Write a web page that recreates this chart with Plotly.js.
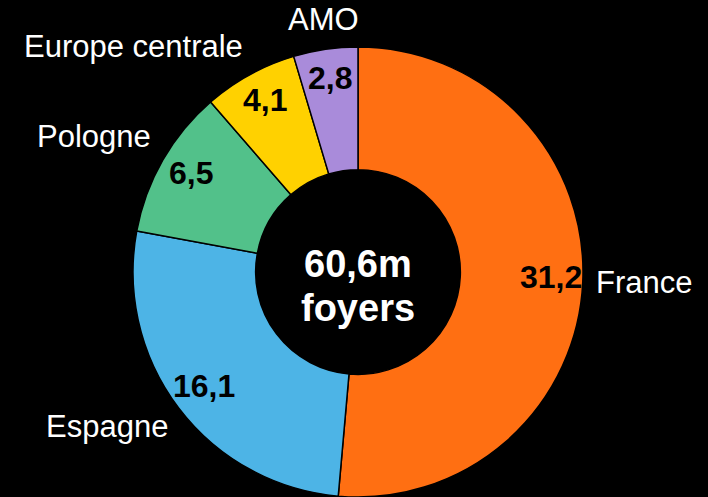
<!DOCTYPE html>
<html>
<head>
<meta charset="utf-8">
<script src="https://cdn.plot.ly/plotly-3.0.1.min.js"></script>
<style>
  html, body { margin: 0; padding: 0; background: #000; }
  #chart { width: 708px; height: 497px; }
</style>
</head>
<body>
<div id="chart"></div>
<script>
// Data
const regions = ["France", "Espagne", "Pologne", "Europe centrale", "AMO"];
const households = [31.2, 16.1, 6.5, 4.1, 2.8];
const valueLabels = ["31,2", "16,1", "6,5", "4,1", "2,8"];
const sliceColors = ["#FF6F12", "#4DB4E6", "#52C18A", "#FFD100", "#A98BDA"];
const centerLines = ["60,6m", "foyers"];

// Layout geometry
const W = 708, H = 497;
const cx = 358, cy = 272, R = 225;
const domX = [(cx - R) / W, (cx + R) / W];
const domY = [(H - cy - R) / H, (H - cy + R) / H];
const FONT = "Liberation Sans, Arial, sans-serif";

const total = households.reduce((a, b) => a + b, 0);
const annotations = [];
let cum = 0;
households.forEach((v, i) => {
  const mid = (cum + v / 2) / total * 2 * Math.PI;
  cum += v;
  const s = Math.sin(mid), c = Math.cos(mid);
  // value label inside slice
  const rIn = 193;
  annotations.push({
    xref: "paper", yref: "paper",
    x: (cx + rIn * s) / W, y: (H - (cy - rIn * c - 3)) / H,
    xanchor: "center", yanchor: "middle",
    text: "<b>" + valueLabels[i] + "</b>",
    showarrow: false,
    font: { family: FONT, size: 32, color: "#000" }
  });
  // name label outside
  const rOut = 237;
  let xa = "center", ya = "middle", dy = 0;
  if (s > 0.3) xa = "left"; else if (s < -0.3) xa = "right";
  if (c > 0.3) { ya = "bottom"; dy = -1; } else if (c < -0.3) { ya = "top"; dy = 7; }
  annotations.push({
    xref: "paper", yref: "paper",
    x: (cx + rOut * s) / W, y: (H - (cy - rOut * c - dy)) / H,
    xanchor: xa, yanchor: ya,
    text: regions[i],
    showarrow: false,
    borderpad: 0,
    font: { family: FONT, size: 31, color: "#fff" }
  });
});

const centerY = [264, 308];
centerLines.forEach((t, k) => {
  annotations.push({
    xref: "paper", yref: "paper",
    x: cx / W, y: (H - centerY[k]) / H,
    xanchor: "center", yanchor: "middle",
    text: "<b>" + t + "</b>",
    showarrow: false,
    font: { family: FONT, size: 38, color: "#fff" }
  });
});

const trace = {
  type: "pie",
  values: households,
  labels: regions,
  sort: false,
  direction: "clockwise",
  rotation: 0,
  hole: 0.455,
  textinfo: "none",
  hoverinfo: "none",
  showlegend: false,
  marker: { colors: sliceColors, line: { color: "#000", width: 1.5 } },
  domain: { x: domX, y: domY }
};

const layout = {
  width: W, height: H,
  margin: { l: 0, r: 0, t: 0, b: 0 },
  paper_bgcolor: "#000",
  plot_bgcolor: "#000",
  showlegend: false,
  annotations: annotations
};

Plotly.newPlot("chart", [trace], layout, { displayModeBar: false, staticPlot: true });
</script>
</body>
</html>
